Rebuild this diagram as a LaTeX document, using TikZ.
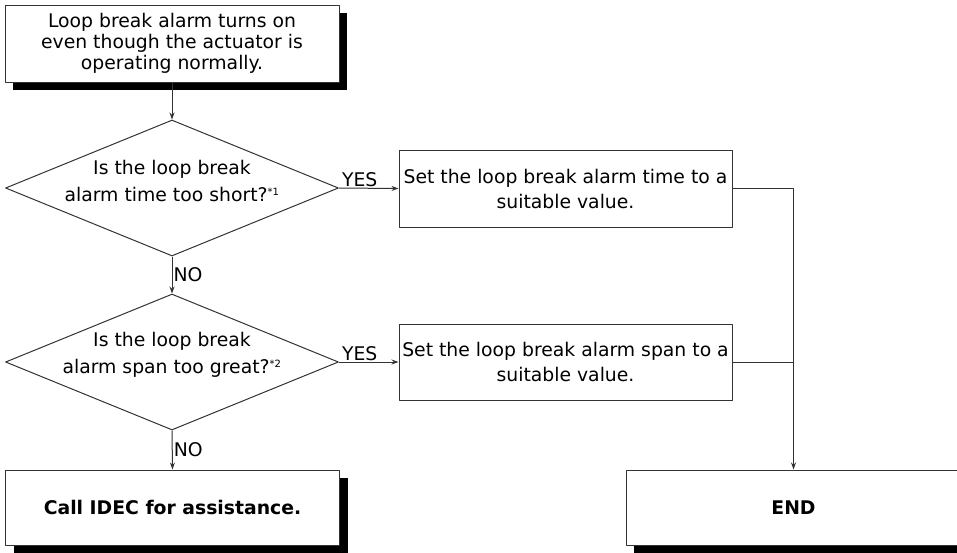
\documentclass[tikz,border=0pt]{standalone}
\usepackage{fontspec}
\setmainfont{DejaVu Sans}
\usetikzlibrary{shapes.geometric,arrows.meta,shadows}
\tikzset{
  box/.style={draw=black!80, fill=white, line width=1pt, align=center, inner sep=0pt},
  shadowbox/.style={box, drop shadow={shadow xshift=8pt, shadow yshift=-8pt, fill=black, opacity=1}},
  decision/.style={draw=black!80, fill=white, line width=1pt, shape=diamond, inner sep=0pt,
    minimum width=333pt, minimum height=136pt},
  link/.style={->, draw=black!80, line width=1pt},
  answer/.style={text=black, inner sep=1pt},
}
\newcommand{\note}[1]{\textsuperscript{\fontsize{10}{10}\selectfont #1}}
\begin{document}
\begin{tikzpicture}[x=1pt,y=-1pt,>={Stealth[length=7pt,width=5pt]}, font=\fontsize{18.8}{21}\selectfont, line join=round]
					\clip (0,0) rectangle (957,552);
					\def\bw{334} \def\bh{77}
					% left column
					\node[shadowbox, minimum width=\bw pt, minimum height=\bh pt] (start) at (172,43.5)
						{Loop break alarm turns on\\even though the actuator is\\operating normally.};
					\node[decision] (q1) at (172,188) {};
					\node[align=center, font=\fontsize{18.8}{27}\selectfont] at ([yshift=7pt]q1) {Is the loop break\\alarm time too short?\note{*1}};
					\node[decision] (q2) at (172,362) {};
					\node[align=center, font=\fontsize{18.8}{27}\selectfont] at ([yshift=7pt]q2) {Is the loop break\\alarm span too great?\note{*2}};
					\node[shadowbox, minimum width=\bw pt, minimum height=75pt, font=\fontsize{18.8}{21}\selectfont\bfseries] (call) at (172.5,507.5)
						{Call IDEC for assistance.};
					% right column
					\node[box, minimum width=333pt, minimum height=\bh pt, font=\fontsize{18.8}{25}\selectfont] (set1) at (565.5,188.5)
						{Set the loop break alarm time to a\\suitable value.};
					\node[box, minimum width=333pt, minimum height=76pt, font=\fontsize{18.8}{25}\selectfont] (set2) at (565.5,362)
						{Set the loop break alarm span to a\\suitable value.};
					\node[shadowbox, minimum width=335pt, minimum height=75pt, font=\fontsize{18.8}{21}\selectfont\bfseries] (done) at (793.5,507.5)
						{END};
					% connectors
					\draw[link] (start) -- (q1);
					\draw[link] (q1.south) -- node[answer, right]{NO} (q2.north);
					\draw[link] (q2.south) -- node[answer, right]{NO} (call.north);
					\draw[link] (q1.east) -- node[answer, above, xshift=-9pt]{YES} (set1.west);
					\draw[link] (q2.east) -- node[answer, above, xshift=-9pt]{YES} (set2.west);
					\draw[link] (set1.east) -| (done.north);
					\draw[link, -] (set2.east) -- (set2.east -| done.north);
\end{tikzpicture}
\end{document}
